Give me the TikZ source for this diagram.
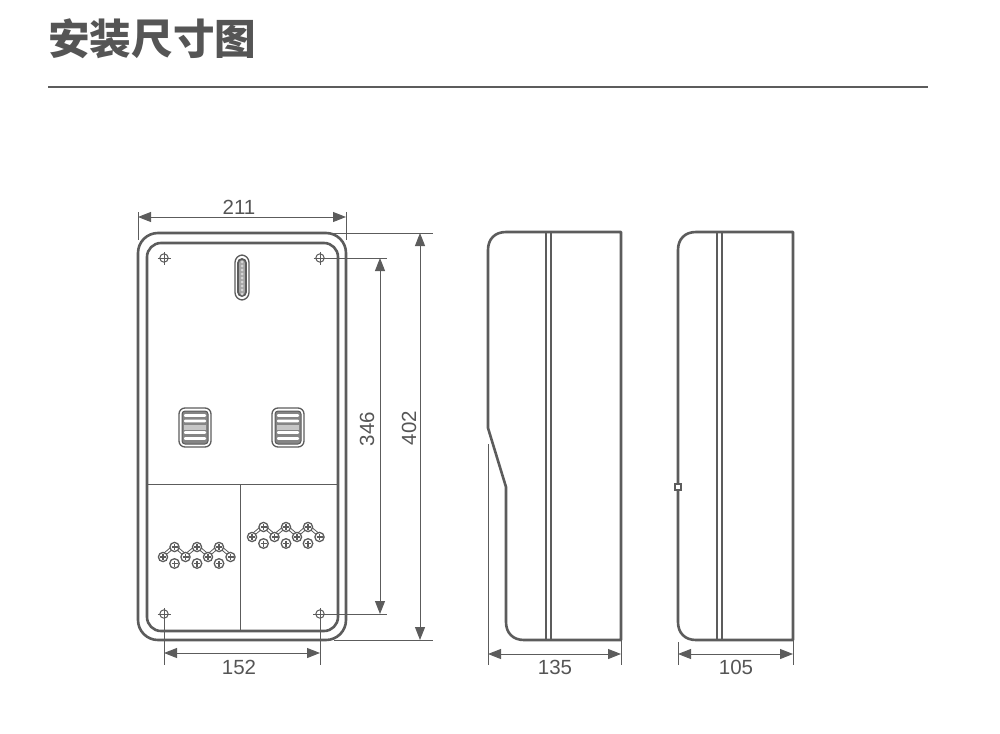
\documentclass[tikz,border=0pt]{standalone}
\usepackage{xcolor}
\usepackage{fontspec}
\usepackage{tikz}
\usetikzlibrary{arrows.meta}
\newfontfamily\cjk{Noto Sans CJK SC}
\newfontfamily\dimfont{Liberation Sans}
\definecolor{linegray}{HTML}{5C5C5C}
\definecolor{textgray}{HTML}{555555}
\tikzset{>={Triangle[length=13pt,width=10pt]}}
\tikzset{
  wall/.style={draw=linegray, line width=2.6pt},
  thinline/.style={draw=linegray, line width=1pt},
  dimline/.style={draw=linegray, line width=1pt, <->},
  dimlabel/.style={text=textgray, font=\dimfont\fontsize{20.5}{20.5}\selectfont, inner sep=0pt},
  hole/.style={draw=linegray, line width=1pt},
  screw/.style={draw=linegray, line width=1.3pt},
}
\begin{document}
\begin{tikzpicture}[x=1pt,y=-1pt]
        \useasboundingbox (0,0) rectangle (1000,733);

        % Title
        \node (title) [text=textgray, anchor=west, inner sep=0pt, font=\cjk\bfseries\fontsize{41.6}{42}\selectfont] at (48,39) {安装尺寸图};
        \draw [draw=linegray, line width=1.5pt] (48,87) -- (928,87);

        % Front view
        \draw [wall, rounded corners=20pt] (138,233) rectangle (346,640);
        \draw [wall, rounded corners=14pt] (147,243) rectangle (338,631);
        \draw [thinline] (147,484) -- (338,484);
        \draw [thinline] (240,484) -- (240,631);

        % Mounting holes
        \coordinate (holeTL) at (164,258);
        \coordinate (holeTR) at (320,258);
        \coordinate (holeBL) at (164,614);
        \coordinate (holeBR) at (320,614);
        \foreach \hn in {holeTL,holeTR,holeBL,holeBR} {
          \draw [hole] (\hn) circle (4.2);
          \draw [hole] ([yshift=-6.5pt]\hn) -- ([yshift=6.5pt]\hn);
          \draw [hole] ([xshift=-6.5pt]\hn) -- ([xshift=6.5pt]\hn);
        }

        % Slot
        \draw [draw=linegray, line width=1.3pt, rounded corners=7.5pt] (235,255) rectangle (249,300);
        \draw [draw=linegray, fill=linegray!55, line width=1.8pt, rounded corners=4pt] (238,259) rectangle (246,296);
        \foreach \sy in {262,266,...,294} {
          \fill [white!75!linegray] (242,\sy) circle (1.5);
        }

        % Vents
        \foreach \vx in {195,288} {
          \draw [draw=linegray, line width=1.3pt, rounded corners=6pt] (\vx-16,408) rectangle (\vx+16,447);
          \draw [draw=linegray, fill=linegray!75, line width=1pt, rounded corners=3pt] (\vx-13,411) rectangle (\vx+13,444);
          \foreach \vy in {415.5,421,432.5,438.5} {
            \fill [white, rounded corners=1pt] (\vx-11,\vy-1.3) rectangle (\vx+11,\vy+1.3);
          }
          \fill [linegray!35] (\vx-11,424.5) rectangle (\vx+11,430);
        }

        % Terminals
        \foreach \gx/\gy in {163/557,252/537} {
          \begin{scope}[shift={(\gx,\gy)}]
            \draw [draw=linegray, line width=1pt, double=white, double distance=1.5pt]
              (0,-1.5) -- (11.5,-11) -- (22.5,-1.5) -- (34,-11) -- (45,-1.5) -- (56,-11) -- (67.5,-1.5);
            \foreach \tx in {0,22.5,45,67.5} {
              \draw [screw, fill=white] (\tx,0) circle (4.6);
              \draw [screw] (\tx-3,0) -- (\tx+3,0);
              \draw [screw] (\tx,-3) -- (\tx,3);
            }
            \foreach \tx in {11.5,34,56} {
              \draw [screw, fill=white] (\tx,-10) circle (4.6);
              \draw [screw] (\tx-3,-10) -- (\tx+3,-10);
              \draw [screw] (\tx,-13) -- (\tx,-7);
              \draw [screw, fill=white] (\tx,6.5) circle (4.8);
              \draw [screw] (\tx-3,6.5) -- (\tx+3,6.5);
              \draw [screw] (\tx,3.5) -- (\tx,9.5);
            }
          \end{scope}
        }

        % Dimensions of the front view
        \coordinate (wa) at (138,217);
        \coordinate (wb) at (346,217);
        \draw [thinline] (138,212) -- (138,240);
        \draw [thinline] (346,212) -- (346,240);
        \draw [dimline] (wa) -- (wb);
        \node (widthlabel) [dimlabel] at (239,207.5) {211};

        \coordinate (ta) at (420,233);
        \coordinate (tb) at (420,640);
        \draw [thinline] (334,233) -- (433,233);
        \draw [thinline] (334,640) -- (433,640);
        \draw [dimline] (ta) -- (tb);
        \node (heightlabel) [dimlabel, rotate=90] at (409,428) {402};

        \coordinate (ha) at (380,258);
        \coordinate (hb) at (380,614);
        \draw [thinline] (holeTR) -- (387,258);
        \draw [thinline] (313,614) -- (387,614);
        \draw [dimline] (ha) -- (hb);
        \node (holelabel) [dimlabel, rotate=90] at (367,429) {346};

        \coordinate (ba) at (164,653);
        \coordinate (bb) at (320,653);
        \draw [thinline] (holeBL) -- (164,665);
        \draw [thinline] (320,608) -- (320,665);
        \draw [dimline] (ba) -- (bb);
        \node (baselabel) [dimlabel] at (239,667) {152};

        % Side view, deep
        \draw [wall, line join=round] (621,232) -- (506,232) .. controls (495,232) and (488,239) .. (488,250)
          -- (488,428) -- (506,487) -- (506,622) .. controls (506,633) and (513,640) .. (524,640) -- (621,640) -- cycle;
        \draw [wall] (546,232) -- (546,640);
        \draw [wall] (551,232) -- (551,640);
        \coordinate (da) at (488,654);
        \coordinate (db) at (621,654);
        \draw [thinline] (488,444) -- (488,665);
        \draw [thinline] (621,640) -- (621,665);
        \draw [dimline] (da) -- (db);
        \node (deeplabel) [dimlabel] at (555,667) {135};

        % Side view, shallow
        \draw [wall, line join=round] (793,232) -- (696,232) .. controls (685,232) and (678,239) .. (678,250)
          -- (678,622) .. controls (678,633) and (685,640) .. (696,640) -- (793,640) -- cycle;
        \draw [wall] (717,232) -- (717,640);
        \draw [wall] (722,232) -- (722,640);
        \draw [draw=linegray, line width=1.2pt, fill=white] (675,484) rectangle (681,490);
        \coordinate (sa) at (678,654);
        \coordinate (sb) at (793,654);
        \draw [thinline] (678,642) -- (678,665);
        \draw [thinline] (793,640) -- (793,665);
        \draw [dimline] (sa) -- (sb);
        \node (shallowlabel) [dimlabel] at (736,667) {105};
\end{tikzpicture}
\end{document}
